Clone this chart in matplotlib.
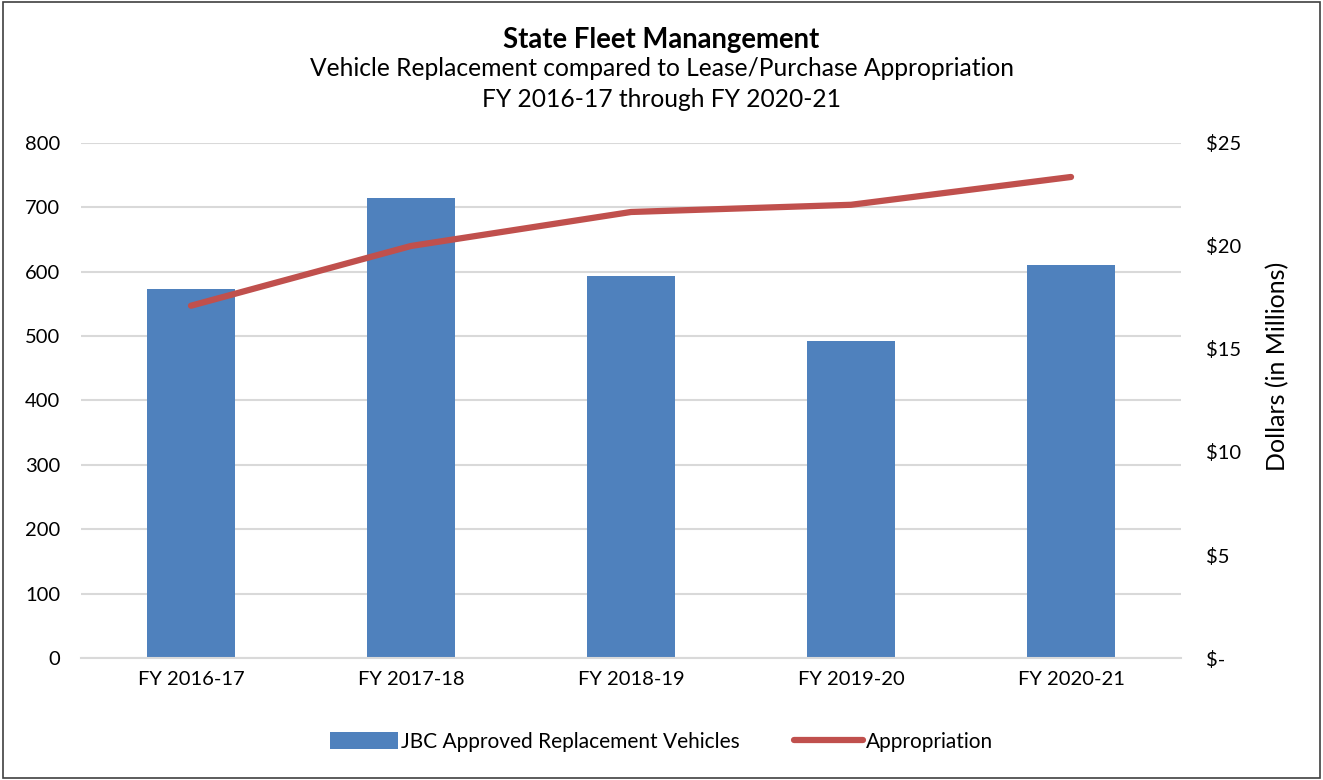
import matplotlib
matplotlib.use("Agg")
import matplotlib.pyplot as plt
from matplotlib.ticker import FuncFormatter
from matplotlib.patches import Rectangle

# Chart data
years = ["FY 2016-17", "FY 2017-18", "FY 2018-19", "FY 2019-20", "FY 2020-21"]
vehicles = [573, 715, 593, 493, 611]
appropriation = [17.1, 20.0, 21.65, 22.0, 23.35]  # $ millions

BAR_BLUE = "#4F81BD"
LINE_RED = "#C0504D"
GRID = "#D9D9D9"

plt.rcParams["font.family"] = ["Lato", "DejaVu Sans"]

fig = plt.figure(figsize=(13.23, 7.8), dpi=100)
ax = fig.add_axes([0.0612, 0.1564, 0.8315, 0.6603])
ax2 = ax.twinx()

x = list(range(len(years)))
bars = ax.bar(x, vehicles, width=0.4, color=BAR_BLUE, zorder=2,
              label="JBC Approved Replacement Vehicles")
line, = ax2.plot(x, appropriation, color=LINE_RED, lw=4.5,
                 solid_capstyle="round", zorder=3, label="Appropriation")

ax.set_xlim(-0.5, 4.5)
ax.set_ylim(0, 800)
ax.set_yticks(range(0, 801, 100))
ax2.set_ylim(0, 25)
ax2.set_yticks(range(0, 26, 5))
ax2.yaxis.set_major_formatter(FuncFormatter(lambda v, p: "$-" if v == 0 else f"${v:.0f}"))

ax.set_xticks(x)
ax.set_xticklabels(years)
ax.grid(axis="y", color=GRID, lw=1.5, zorder=0)
ax.set_axisbelow(True)

for a in (ax, ax2):
    for s in a.spines.values():
        s.set_visible(False)
ax.spines["bottom"].set_visible(True)
ax.spines["bottom"].set_color(GRID)
ax.spines["bottom"].set_linewidth(1.5)

ax.tick_params(axis="x", length=0, labelsize=14.5, colors="black", pad=9)
ax.tick_params(axis="y", length=0, labelsize=14.5, colors="black", pad=15)
ax2.tick_params(axis="y", length=0, labelsize=14.5, pad=18)
for lbl in ax2.get_yticklabels():
    lbl.set_horizontalalignment("left")
ax2.set_ylabel("Dollars (in Millions)", fontsize=18)
ax2.yaxis.set_label_coords(1.077, 0.567)

# ensure line drawn above bars
ax2.set_zorder(ax.get_zorder() + 1)
ax2.patch.set_visible(False)

fig.text(0.5, 0.949, "State Fleet Manangement", ha="center", va="center",
         fontsize=19.8, fontweight="bold")
fig.text(0.5, 0.912, "Vehicle Replacement compared to Lease/Purchase Appropriation",
         ha="center", va="center", fontsize=17.7)
fig.text(0.5, 0.873, "FY 2016-17 through FY 2020-21", ha="center", va="center", fontsize=17.7)

fig.legend([bars, line], ["JBC Approved Replacement Vehicles", "Appropriation"],
           loc="center", bbox_to_anchor=(0.5, 0.049), ncol=2, frameon=False,
           fontsize=15, handlelength=3.3, handleheight=0.9, columnspacing=2.6,
           handletextpad=0.15)

# outer border
fig.patches.append(Rectangle((0.002, 0.003), 0.996, 0.994, transform=fig.transFigure,
                             fill=False, edgecolor="#404040", lw=1.2))

fig.savefig("out.png", dpi=100)
